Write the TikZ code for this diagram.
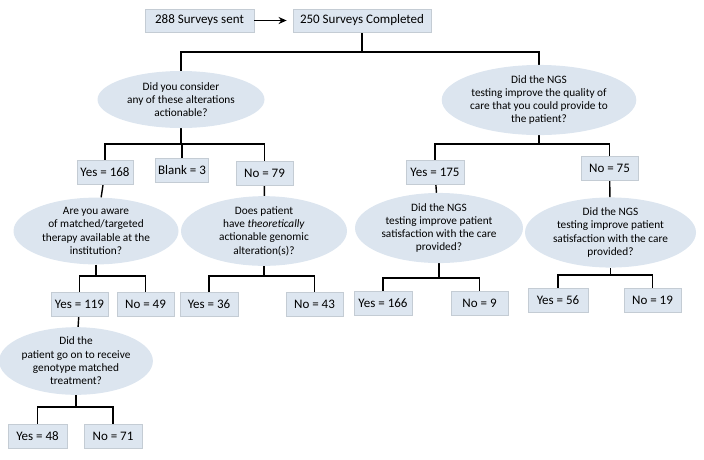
\documentclass[tikz,border=0pt]{standalone}
\usepackage{fontspec}
\setmainfont{Carlito}
\usepackage{xcolor}
\usetikzlibrary{shapes,arrows.meta,positioning,backgrounds,calc}

\definecolor{boxfill}{RGB}{221,230,240}
\definecolor{boxline}{RGB}{196,204,212}
\definecolor{ovalfill}{RGB}{220,229,239}

\begin{document}
\begin{tikzpicture}[x=1pt,y=-1pt,
    ansbox/.style={draw=boxline, fill=boxfill, line width=0.8pt, inner sep=0pt,
        minimum height=24, font=\fontsize{13}{15}\selectfont},
    question/.style={ellipse, fill=ovalfill, inner sep=0pt, align=center,
        font=\fontsize{11.3}{13.3}\selectfont},
    tree/.style={line width=1.4pt}]
\useasboundingbox (0,0) rectangle (704,459);

% Top boxes
\node[ansbox, minimum width=109, minimum height=23] (sent) at (199.5,20.5) {288 Surveys sent};
\node[ansbox, minimum width=138, minimum height=23] (done) at (362,20.5) {250 Surveys Completed};
\draw[tree, -{Stealth[length=8pt,width=7pt]}, shorten >=6pt] (sent) -- (done);

% Questions
\node[question, minimum width=167, minimum height=57] (qact) at (181,99.5)
    {Did you consider\\any of these alterations\\actionable?};
\node[question, minimum width=166, minimum height=56] (qcare) at (539,100)
    {Did the NGS\\testing improve the quality of\\care that you could provide to\\the patient?};
\node[question, minimum width=165, minimum height=58] (qaware) at (96,231)
    {Are you aware\\of matched/targeted\\therapy available at the\\institution?};
\node[question, minimum width=166, minimum height=58] (qtheo) at (264,231)
    {Does patient\\have \textit{theoretically}\\actionable genomic\\alteration(s)?};
\node[question, minimum width=132, minimum height=58] (qrecv) at (76,361)
    {Did the\\patient go on to receive\\genotype matched\\treatment?};
\node[question, minimum width=168, minimum height=56] (qsat1) at (439,228)
    {Did the NGS\\testing improve patient\\satisfaction with the care\\provided?};
\node[question, minimum width=171, minimum height=59] (qsat2) at (610.5,232.5)
    {Did the NGS\\testing improve patient\\satisfaction with the care\\provided?};

% Answers
\foreach \name/\x/\y/\w/\txt in {
    yesA/105/172/56/Yes = 168, blank/182/170.5/53/Blank = 3, noA/264.5/173/57/No = 79,
    yesB/79.5/304.5/57/Yes = 119, noB/145.5/304.5/57/No = 49,
    yesC/209/304.5/58/Yes = 36, noC/314.5/304.5/57/No = 43,
    yesD/37.5/436/59/Yes = 48, noD/113/436/58/No = 71,
    yesE/435/172.5/58/Yes = 175, noE/609.5/168.5/57/No = 75,
    yesF/383/303.5/58/Yes = 166, noF/479.5/303.5/57/No = 9,
    yesG/558/300.5/60/Yes = 56, noG/652.5/300.5/57/No = 19} {
    \node[ansbox, minimum width=\w] (\name) at (\x,\y) {\txt};
}

% Fork levels
\coordinate (f0) at (0,52);
\coordinate (f1) at (0,144);
\coordinate (f2) at (0,276);
\coordinate (f3) at (0,407);
\coordinate (f4) at (0,278);
\coordinate (f5) at (0,275);

% Connectors
\begin{scope}[on background layer]
\draw[tree] (done) -- (done |- f0);
\draw[tree] (qact) |- (qcare |- f0) -- (qcare);
\draw[tree] (qact) -- (qact |- f1);
\draw[tree] (yesA) |- (noA |- f1) -- (noA);
\draw[tree] (blank) -- (blank |- f1);
\draw[tree] (qcare) -- (qcare |- f1);
\draw[tree] (yesE) |- (noE |- f1) -- (noE);
\draw[tree] (yesA) -- (qaware);
\draw[tree] (noA) -- (qtheo);
\draw[tree] (yesE) -- (qsat1);
\draw[tree] (noE) -- (qsat2);
\draw[tree] (qaware) -- (qaware |- f2);
\draw[tree] (yesB) |- (noB |- f2) -- (noB);
\draw[tree] (qtheo) -- (qtheo |- f2);
\draw[tree] (yesC) |- (noC |- f2) -- (noC);
\draw[tree] (yesB) -- (qrecv);
\draw[tree] (qrecv) -- (qrecv |- f3);
\draw[tree] (yesD) |- (noD |- f3) -- (noD);
\draw[tree] (qsat1) -- (qsat1 |- f4);
\draw[tree] (yesF) |- (noF |- f4) -- (noF);
\draw[tree] (qsat2) -- (qsat2 |- f5);
\draw[tree] (yesG) |- (noG |- f5) -- (noG);
\end{scope}

\end{tikzpicture}
\end{document}
